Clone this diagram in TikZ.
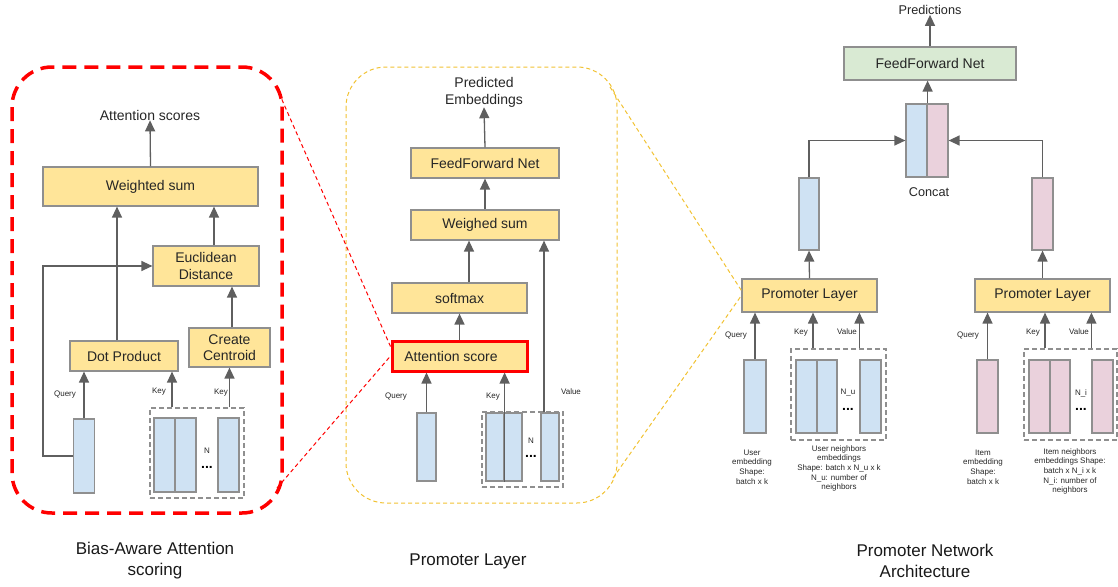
\documentclass[tikz,border=0pt]{standalone}
\usepackage{fontspec}
\setmainfont{Liberation Sans}
\usetikzlibrary{arrows.meta}
\definecolor{boxyellow}{HTML}{FFE599}
\definecolor{vecblue}{HTML}{CFE2F3}
\definecolor{vecpink}{HTML}{EAD1DC}
\definecolor{ffgreen}{HTML}{D9EAD3}
\definecolor{edgegray}{HTML}{8F8F8F}
\definecolor{arrowgray}{HTML}{5F5F5F}
\definecolor{zoomyellow}{HTML}{F1C232}
\definecolor{zoomred}{HTML}{FF0000}
\begin{document}
\begin{tikzpicture}[x=1pt,y=-1pt,
	box/.style={draw=edgegray,fill=boxyellow,line width=1.2pt,inner sep=0,align=center,
		text=black!85,font=\fontsize{14}{16.5}\selectfont},
	vec/.style={draw=edgegray,fill=vecblue,line width=1.2pt,inner sep=0,minimum width=21,minimum height=74},
	pvec/.style={vec,fill=vecpink},
	grp/.style={draw=edgegray,line width=1.2pt,dash pattern=on 5pt off 3pt,inner sep=0},
	lbl/.style={inner sep=0,align=center,text=black!85,font=\fontsize{8}{9.7}\selectfont},
	txt/.style={inner sep=0,align=center,text=black!85,font=\fontsize{14}{17}\selectfont},
	captxt/.style={inner sep=0,align=center,text=black!90,font=\fontsize{17}{21}\selectfont},
	dotsn/.style={inner sep=0,font=\fontsize{14}{14}\selectfont\bfseries},
	arr/.style={draw=arrowgray,line width=1.3pt,-{Triangle[length=11pt,width=10pt]}},
	zoomln/.style={line width=1pt,dash pattern=on 4pt off 3pt}]
\useasboundingbox (0,0) rectangle (1118,586);

% bias-aware attention scoring
\draw[zoomred,line width=3.5pt,dash pattern=on 14pt off 8pt,rounded corners=40] (12,67) rectangle (282,513);
\node[txt] (attscores) at (150,115) {Attention scores};
\node[box,minimum width=215,minimum height=39] (wsum) at (150.5,186.5) {Weighted sum};
\node[box,minimum width=106,minimum height=40] (eucl) at (206,266) {Euclidean\\Distance};
\node[box,minimum width=108,minimum height=30] (dot) at (124,356) {Dot Product};
\node[box,minimum width=81,minimum height=39] (centroid) at (229.5,347.5) {Create\\Centroid};
\node[vec] (qL) at (84,456) {};
\node[grp,minimum width=94,minimum height=90] (keyL) at (197,453) {};
\node[vec] (kL1) at (164.5,455) {};
\node[vec] (kL2) at (185.5,455) {};
\node[vec] (kL3) at (228.5,455) {};
\node[lbl] (nL) at (207,451) {N};
\node[dotsn] (dotsL) at (207,467) {...};
\node[lbl] (qlblL) at (65,395) {Query};
\node[lbl] (klblL1) at (159,392) {Key};
\node[lbl] (klblL2) at (221,393) {Key};
\draw[arr] (wsum.north) -- (attscores.south);
\draw[arr] ([xshift=-7pt]dot.north) -- ([xshift=-7pt]dot.north |- wsum.south);
\draw[arr] ([xshift=8pt]eucl.north) -- ([xshift=8pt]eucl.north |- wsum.south);
\draw[arr] ([xshift=2.5pt]centroid.north) -- ([xshift=2.5pt]centroid.north |- eucl.south);
\draw[arr] (qL.north) -- (qL.north |- dot.south);
\draw[arr] (qL.west) -- ++(-30,0) |- (eucl.west);
\draw[arr] ([xshift=-25pt]keyL.north) -- ([xshift=-25pt]keyL.north |- dot.south);
\draw[arr] (keyL.north -| centroid) -- (centroid.south);

% promoter layer
\draw[zoomyellow,zoomln,rounded corners=40] (346,67) rectangle (617,503);
\node[txt] (predemb) at (484,92) {Predicted\\Embeddings};
\node[box,minimum width=148,minimum height=30] (ffnM) at (485,163) {FeedForward Net};
\node[box,minimum width=148,minimum height=30] (wsumM) at (485,225) {Weighed sum};
\node[box,minimum width=135,minimum height=30] (softmax) at (459.5,298) {softmax};
\node[box,draw=zoomred,line width=3pt,minimum width=135,minimum height=30] (attsc) at (459.5,356) {Attention score\hspace*{17pt}};
\node[vec,minimum width=19,minimum height=68] (qM) at (426.5,447) {};
\node[grp,minimum width=81,minimum height=75] (keyM) at (522.5,449.5) {};
\node[vec,minimum width=18,minimum height=68] (kM1) at (495,447) {};
\node[vec,minimum width=18,minimum height=68] (kM2) at (513,447) {};
\node[vec,minimum width=18,minimum height=68] (kM3) at (550,447) {};
\node[lbl] (nM) at (531,441) {N};
\node[dotsn] (dotsM) at (531,456) {...};
\node[lbl] (qlblM) at (396,397) {Query};
\node[lbl] (klblM) at (493,397) {Key};
\node[lbl] (vlblM) at (571,392) {Value};
\draw[arr] (ffnM.north) -- (predemb.south);
\draw[arr] (wsumM.north) -- (ffnM.south);
\draw[arr] ([xshift=9.5pt]softmax.north) -- ([xshift=9.5pt]softmax.north |- wsumM.south);
\draw[arr] (attsc.north) -- (softmax.south);
\draw[arr] (qM.north) -- (qM.north |- attsc.south);
\draw[arr] (kM1.south east) -- (kM1.south east |- attsc.south);
\draw[arr] ([xshift=-6pt]kM3.north) -- ([xshift=-6pt]kM3.north |- wsumM.south);

% promoter network architecture
\node[txt,font=\fontsize{12.7}{15}\selectfont] (predictions) at (930,10) {Predictions};
\node[box,fill=ffgreen,minimum width=172,minimum height=33] (ffnR) at (930,63.5) {FeedForward Net};
\node[vec,minimum height=73] (catU) at (916.5,140.5) {};
\node[pvec,minimum height=73] (catI) at (937.5,140.5) {};
\node[txt,font=\fontsize{12.7}{15}\selectfont] (concat) at (929,192) {Concat};
\node[vec,minimum width=20,minimum height=72] (outU) at (809,214) {};
\node[pvec,minimum width=21,minimum height=72] (outI) at (1042.5,214) {};
\node[box,minimum width=135,minimum height=33] (promU) at (809.5,295.5) {Promoter Layer};
\node[box,minimum width=135,minimum height=33] (promI) at (1042.5,295.5) {Promoter Layer};
\draw[arr] (ffnR.north) -- (predictions.south);
\draw[arr] (catU.north east) -- (catU.north east |- ffnR.south);
\draw[arr] (outU.north) |- (catU.west);
\draw[arr] (outI.north) |- (catI.east);
\draw[arr] (promU.north) -- (outU.south);
\draw[arr] (promI.north) -- (outI.south);
% user side
\node[vec,minimum width=22,minimum height=73] (qU) at (755,396.5) {};
\node[grp,minimum width=95,minimum height=91] (keyU) at (838.5,394.5) {};
\node[vec,minimum height=73] (kU1) at (806.5,396.5) {};
\node[vec,minimum width=20,minimum height=73] (kU2) at (827,396.5) {};
\node[vec,minimum height=73] (kU3) at (870.5,396.5) {};
\node[lbl] (nU) at (848,393) {N\_u};
\node[dotsn] (dotsU) at (848,409) {...};
\node[lbl] (qlblU) at (736,336) {Query};
\node[lbl] (klblU) at (801,333) {Key};
\node[lbl] (vlblU) at (847,332) {Value};
\node[lbl] (userembtxt) at (752,467) {User\\embedding\\Shape:\\batch x k};
\node[lbl] (userneitxt) at (839,468.5) {User neighbors\\embeddings\\Shape: batch x N\_u x k\\N\_u: number of\\neighbors};
\draw[arr] (qU.north) -- (qU.north |- promU.south);
\draw[arr] ([xshift=-25.5pt]keyU.north) -- ([xshift=-25.5pt]keyU.north |- promU.south);
\draw[arr] (keyU.north -| kU3.west) -- (kU3.west |- promU.south);
% item side
\node[pvec,minimum height=73] (qI) at (987.5,396.5) {};
\node[grp,minimum width=93,minimum height=91] (keyI) at (1070.5,394.5) {};
\node[pvec,minimum height=73] (kI1) at (1039.5,396.5) {};
\node[pvec,minimum width=20,minimum height=73] (kI2) at (1060,396.5) {};
\node[pvec,minimum height=73] (kI3) at (1102.5,396.5) {};
\node[lbl] (nI) at (1081,393) {N\_i};
\node[dotsn] (dotsI) at (1081,409) {...};
\node[lbl] (qlblI) at (968,336) {Query};
\node[lbl] (klblI) at (1033,333) {Key};
\node[lbl] (vlblI) at (1079,332) {Value};
\node[lbl] (itemembtxt) at (983,467) {Item\\embedding\\Shape:\\batch x k};
\node[lbl] (itemneitxt) at (1070,471.5) {Item neighbors\\embeddings Shape:\\batch x N\_i x k\\N\_i: number of\\neighbors};
\draw[arr] (qI.north) -- (qI.north |- promI.south);
\draw[arr] ([xshift=-25.5pt]keyI.north) -- ([xshift=-25.5pt]keyI.north |- promI.south);
\draw[arr] (keyI.north -| kI3.west) -- (kI3.west |- promI.south);

% zoom lines
\coordinate (redtop) at (279,93);
\coordinate (redbot) at (277,488);
\coordinate (yeltop) at (610,87);
\coordinate (yelbot) at (613,478);
\draw[zoomred,zoomln] (redtop) -- ([yshift=-7pt]attsc.north west);
\draw[zoomred,zoomln] (redbot) -- (attsc.west);
\draw[zoomyellow,zoomln] (yeltop) -- ([yshift=5pt]promU.west);
\draw[zoomyellow,zoomln] (yelbot) -- (promU.west);

% captions
\node[captxt] (capL) at (155,561) {Bias-Aware Attention\\scoring};
\node[captxt] (capM) at (468,561) {Promoter Layer};
\node[captxt] (capR) at (925,561) {Promoter Network\\Architecture};
\end{tikzpicture}
\end{document}
